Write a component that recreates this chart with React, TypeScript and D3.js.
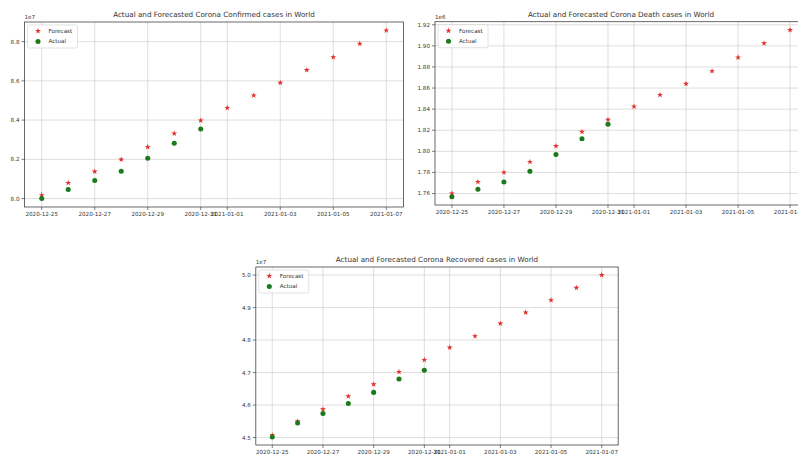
import React from "react";
import * as d3 from "d3";

const dates = [
  "2020-12-25", "2020-12-26", "2020-12-27", "2020-12-28", "2020-12-29", "2020-12-30", "2020-12-31",
  "2021-01-01", "2021-01-02", "2021-01-03", "2021-01-04", "2021-01-05", "2021-01-06", "2021-01-07",
];
const actualDates = dates.slice(0, 7);
const xTickDates = ["2020-12-25", "2020-12-27", "2020-12-29", "2020-12-31", "2021-01-01", "2021-01-03", "2021-01-05", "2021-01-07"];

// values in units of the axis offset (1e7 / 1e6)
const confirmedForecast = [8.017, 8.08, 8.138, 8.199, 8.263, 8.332, 8.398, 8.462, 8.526, 8.59, 8.655, 8.721, 8.789, 8.857];
const confirmedActual = [8.0, 8.046, 8.092, 8.139, 8.206, 8.282, 8.355];
const confirmedTicks = [8.0, 8.2, 8.4, 8.6, 8.8];

const deathForecast = [1.76, 1.771, 1.78, 1.79, 1.805, 1.8185, 1.83, 1.8425, 1.8535, 1.864, 1.876, 1.889, 1.9024, 1.915];
const deathActual = [1.757, 1.764, 1.771, 1.781, 1.797, 1.812, 1.8256];
const deathTicks = [1.76, 1.78, 1.8, 1.82, 1.84, 1.86, 1.88, 1.9, 1.92];

const recoveredForecast = [4.507, 4.55, 4.587, 4.627, 4.664, 4.702, 4.739, 4.777, 4.812, 4.851, 4.885, 4.923, 4.961, 5.0];
const recoveredActual = [4.502, 4.545, 4.574, 4.605, 4.639, 4.68, 4.707];
const recoveredTicks = [4.5, 4.6, 4.7, 4.8, 4.9, 5.0];

const parse = d3.utcParse("%Y-%m-%d");
const fmt = d3.utcFormat("%Y-%m-%d");
const FONT = "DejaVu Sans, sans-serif";

type PanelProps = {
  title: string;
  offset: string;
  forecast: number[];
  actual: number[];
  ticks: number[];
  tickFmt: (v: number) => string;
  left: number;
  right: number;
  top: number;
  bottom: number;
};

function Panel(p: PanelProps) {
  const fDates = dates.map((d) => parse(d)!);
  const aDates = actualDates.map((d) => parse(d)!);
  const t0 = fDates[0].getTime();
  const t1 = fDates[fDates.length - 1].getTime();
  const xm = (t1 - t0) * 0.05;
  const x = d3.scaleUtc().domain([new Date(t0 - xm), new Date(t1 + xm)]).range([p.left, p.right]);
  const all = p.forecast.concat(p.actual);
  const [mn, mx] = d3.extent(all) as [number, number];
  const ym = (mx - mn) * 0.05;
  const y = d3.scaleLinear().domain([mn - ym, mx + ym]).range([p.bottom, p.top]);
  const star = d3.symbol().type(d3.symbolStar).size(11)()!;
  const circ = d3.symbol().type(d3.symbolCircle).size(20)()!;
  const xt = xTickDates.map((d) => parse(d)!);
  const axisColor = "#444";
  const red = "#e0302c";
  const green = "#1b7a1b";
  return (
    <g>
      <defs>
        <clipPath id={"clip" + Math.round(p.left)}>
          <rect x={p.left} y={p.top} width={p.right - p.left} height={p.bottom - p.top} />
        </clipPath>
      </defs>
      <rect x={p.left} y={p.top} width={p.right - p.left} height={p.bottom - p.top} fill="#fff" />
      {xt.map((d, i) => (
        <line key={"gx" + i} x1={x(d)} x2={x(d)} y1={p.top} y2={p.bottom} stroke="#d0d0d0" strokeWidth={0.7} />
      ))}
      {p.ticks.map((v, i) => (
        <line key={"gy" + i} x1={p.left} x2={p.right} y1={y(v)} y2={y(v)} stroke="#d0d0d0" strokeWidth={0.7} />
      ))}
      <g clipPath={`url(#clip${Math.round(p.left)})`}>
        {p.forecast.map((v, i) => (
          <path key={"f" + i} d={star} transform={`translate(${x(fDates[i])},${y(v)})`} fill={red} />
        ))}
        {p.actual.map((v, i) => (
          <path key={"a" + i} d={circ} transform={`translate(${x(aDates[i])},${y(v)})`} fill={green} />
        ))}
      </g>
      <rect x={p.left} y={p.top} width={p.right - p.left} height={p.bottom - p.top} fill="none" stroke={axisColor} strokeWidth={0.8} />
      {xt.map((d, i) => (
        <g key={"xt" + i}>
          <line x1={x(d)} x2={x(d)} y1={p.bottom} y2={p.bottom + 3} stroke={axisColor} strokeWidth={0.7} />
          <text x={x(d)} y={p.bottom + 9} textAnchor="middle" fontSize={5.6} fontFamily={FONT} fill="#333">
            {fmt(d)}
          </text>
        </g>
      ))}
      {p.ticks.map((v, i) => (
        <g key={"yt" + i}>
          <line x1={p.left - 3} x2={p.left} y1={y(v)} y2={y(v)} stroke={axisColor} strokeWidth={0.7} />
          <text x={p.left - 5} y={y(v)} dy="0.35em" textAnchor="end" fontSize={5.6} fontFamily={FONT} fill="#333">
            {p.tickFmt(v)}
          </text>
        </g>
      ))}
      <text x={p.left} y={p.top - 3} fontSize={5.6} fontFamily={FONT} fill="#333">
        {p.offset}
      </text>
      <text x={(p.left + p.right) / 2} y={p.top - 5} textAnchor="middle" fontSize={7.2} fontFamily={FONT} fill="#333">
        {p.title}
      </text>
      <g>
        <rect x={p.left + 3} y={p.top + 3} width={50} height={23} rx={2} fill="#fff" fillOpacity={0.85} stroke="#d5d5d5" strokeWidth={0.7} />
        <path d={star} transform={`translate(${p.left + 13.5},${p.top + 9})`} fill={red} />
        <text x={p.left + 24} y={p.top + 9} dy="0.35em" fontSize={5.6} fontFamily={FONT} fill="#333">Forecast</text>
        <path d={circ} transform={`translate(${p.left + 13.5},${p.top + 19.5})`} fill={green} />
        <text x={p.left + 24} y={p.top + 19.5} dy="0.35em" fontSize={5.6} fontFamily={FONT} fill="#333">Actual</text>
      </g>
    </g>
  );
}

export default function App() {
  return (
    <svg width={798} height={456} style={{ position: "absolute", left: 0, top: 0, background: "#fff" }}>
      <rect x={0} y={0} width={798} height={456} fill="#fff" />
      <Panel
        title="Actual and Forecasted Corona Confirmed cases in World"
        offset="1e7"
        forecast={confirmedForecast}
        actual={confirmedActual}
        ticks={confirmedTicks}
        tickFmt={d3.format(".1f")}
        left={24.5}
        right={403.5}
        top={22}
        bottom={207}
      />
      <Panel
        title="Actual and Forecasted Corona Death cases in World"
        offset="1e6"
        forecast={deathForecast}
        actual={deathActual}
        ticks={deathTicks}
        tickFmt={d3.format(".2f")}
        left={435}
        right={807}
        top={21.7}
        bottom={205}
      />
      <Panel
        title="Actual and Forecasted Corona Recovered cases in World"
        offset="1e7"
        forecast={recoveredForecast}
        actual={recoveredActual}
        ticks={recoveredTicks}
        tickFmt={d3.format(".1f")}
        left={255.8}
        right={618.2}
        top={267}
        bottom={445}
      />
    </svg>
  );
}
